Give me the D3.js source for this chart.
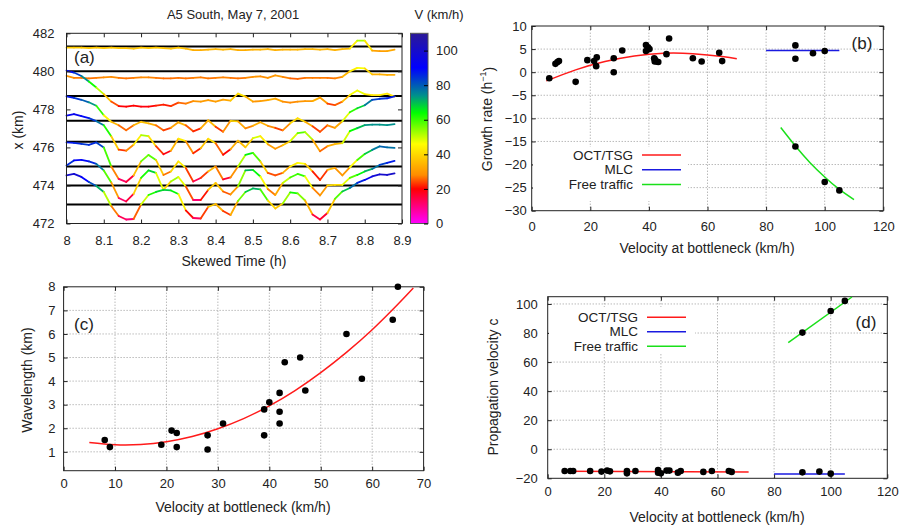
<!DOCTYPE html>
<html>
<head>
<meta charset="utf-8">
<script src="https://cdn.jsdelivr.net/npm/d3@7"></script>
<style>
  body { margin: 0; background: #fff; }
  text { font-family: "Liberation Sans", Arial, sans-serif; fill: #222; }
</style>
</head>
<body>
<svg id="chart" width="899" height="525"></svg>
<script>
// ---- panel (a): speed time series at each detector ----
const times = [8.00, 8.02, 8.04, 8.06, 8.08, 8.10, 8.12, 8.14, 8.16, 8.18, 8.20, 8.22, 8.24, 8.26, 8.28,
  8.30, 8.32, 8.34, 8.36, 8.38, 8.40, 8.42, 8.44, 8.46, 8.48, 8.50, 8.52, 8.54, 8.56, 8.58,
  8.60, 8.62, 8.64, 8.66, 8.68, 8.70, 8.72, 8.74, 8.76, 8.78, 8.80, 8.82, 8.84, 8.86, 8.88];
const detectors = [481.3, 480.0, 478.7, 477.4, 476.3, 475.0, 474.0, 473.0];
const speed1 = [38,38,38,37,38,37,38,37,37,36,38,37,38,37,36,38,36,33,33,34,35,34,35,33,33,34,34,35,33,34,34,34,35,35,34,35,33,35,36,52,52,32,31,31,34];
const speed2 = [31,27,27,26,27,28,29,27,26,27,28,28,27,26,26,27,26,27,28,26,27,28,27,26,27,29,30,27,32,29,26,25,27,27,27,27,26,29,40,47,46,34,34,33,33];
const speed3 = [91,87,80,69,57,44,29,20,19,21,19,19,21,23,20,27,25,30,29,32,29,33,31,45,39,29,30,32,35,29,27,29,30,30,37,25,22,29,42,51,44,42,42,45,39];
const speed4 = [89,86,82,77,70,51,38,31,21,31,38,35,31,21,26,37,31,19,25,41,28,18,40,39,25,30,37,30,26,21,35,45,38,29,18,31,26,39,57,65,71,82,84,85,89];
const speed5 = [92,95,91,87,81,73,51,24,22,34,53,51,31,15,22,46,41,17,27,46,37,14,25,42,29,47,51,35,26,33,41,57,59,44,21,31,35,37,61,67,73,74,74,73,75];
const speed6 = [88,87,85,83,88,78,40,15,9,22,50,63,53,23,30,50,37,10,17,30,40,14,18,40,63,67,50,27,22,27,40,47,45,30,13,33,37,22,38,53,65,73,80,78,77];
const speed7 = [80,90,91,88,83,70,46,15,8,23,55,70,65,31,48,57,38,11,11,31,45,28,22,38,70,71,58,33,21,45,56,63,58,35,20,40,41,41,55,61,68,73,81,85,89];
const speed8 = [98,101,95,85,77,65,37,17,10,11,40,59,65,69,68,61,28,13,12,35,41,27,19,47,65,72,70,48,32,42,64,62,48,20,10,23,51,66,73,83,89,96,100,99,102];
const speeds = [speed1, speed2, speed3, speed4, speed5, speed6, speed7, speed8];
const paletteStops = [0, 20, 28, 46, 64, 74, 90, 110];
const paletteColors = ["#ff00ff", "#ff0000", "#ff8c00", "#ffff00", "#00ff00", "#00908c", "#0000ff", "#2c1a96"];
const cbTicks = [0, 20, 40, 60, 80, 100];

// ---- panel (b): growth rate ----
const bOctV = [6, 8.1, 8.8, 9.3, 15, 19, 21.3, 22.2, 22, 28, 28, 30.9, 39, 39, 39.7, 40.2, 41.8, 42, 42.7, 43.2, 42, 46, 46.9, 55, 58, 64, 65];
const bOctG = [-1.3, 1.8, 2.2, 2.4, -2.1, 2.6, 2.4, 3.2, 1.3, 3.0, 0.0, 4.7, 5.9, 4.6, 5.4, 5.0, 3.0, 2.3, 2.3, 2.2, 2.8, 3.9, 7.3, 3.0, 2.3, 4.2, 2.4];
const bMlcV = [90, 90, 96, 100];
const bMlcG = [5.8, 2.9, 4.1, 4.6];
const bFreeV = [90, 100, 105];
const bFreeG = [-16.1, -23.8, -25.6];
const bOctFitV = [5, 15, 25, 35, 45, 55, 65, 70];
const bOctFitG = [-1.9, 0.5, 2.3, 3.5, 4.1, 4.0, 3.4, 2.9];
const bMlcFitV = [80, 105];
const bMlcFitG = [4.7, 4.7];
const bFreeFitV = [85, 90, 95, 100, 105, 110];
const bFreeFitG = [-12.0, -16.0, -19.6, -22.7, -25.4, -27.6];

// ---- panel (c): wavelength ----
const cV = [8, 9, 19, 21, 22, 22, 28, 28, 31, 39, 39, 40, 42, 42, 42, 43, 46, 47, 55, 58, 64, 65];
const cL = [1.5, 1.2, 1.3, 1.9, 1.8, 1.2, 1.7, 1.1, 2.2, 2.8, 1.7, 3.1, 3.5, 2.7, 2.2, 4.8, 5.0, 3.6, 6.0, 4.1, 6.6, 8.0];
const cFitV = [5, 10, 15, 20, 25, 30, 35, 40, 45, 50, 55, 60, 65, 68];
const cFitL = [1.40, 1.30, 1.31, 1.43, 1.65, 1.98, 2.41, 2.95, 3.6, 4.36, 5.22, 6.18, 7.26, 7.95];

// ---- panel (d): propagation velocity ----
const dOctV = [6, 8, 9, 15, 19, 21, 22, 28, 28, 31, 39, 39, 40, 42, 43, 46, 47, 55, 58, 64, 65];
const dOctC = [-15, -15, -15, -15, -15.4, -14.7, -15.2, -15, -16.6, -15, -14.3, -16.1, -16.6, -14.7, -14.7, -16.1, -15, -15.6, -15, -15, -15.6];
const dMlcV = [90, 96, 100];
const dMlcC = [-15.9, -15.4, -16.8];
const dFreeV = [90, 100, 105];
const dFreeC = [80.3, 95.2, 102.1];
const dOctFitV = [5, 71];
const dOctFitC = [-15.2, -15.6];
const dMlcFitV = [80, 105];
const dMlcFitC = [-17, -17];
const dFreeFitV = [85, 107.5];
const dFreeFitC = [73.4, 104.8];

const legendNames = ["OCT/TSG", "MLC", "Free traffic"];
const fitColors = ["#ff1a1a", "#1a1ae0", "#1ae01a"];

const svg = d3.select("#chart");

function axes(g, x, y, o) {
  const [x0, x1] = x.range();
  const [y0, y1] = y.range();
  if (o.grid) {
    g.append("g").selectAll("line").data(o.xt.filter(d => d > x.domain()[0] && d < x.domain()[1]))
      .join("line").attr("x1", d => x(d)).attr("x2", d => x(d)).attr("y1", y0).attr("y2", y1)
      .attr("stroke", "#999").attr("stroke-dasharray", "1,2");
    g.append("g").selectAll("line").data(o.yt.filter(d => d > y.domain()[0] && d < y.domain()[1]))
      .join("line").attr("y1", d => y(d)).attr("y2", d => y(d)).attr("x1", x0).attr("x2", x1)
      .attr("stroke", "#999").attr("stroke-dasharray", "1,2");
  }
  const t = 4;
  const bx = g.append("g").attr("transform", "translate(0," + y0 + ")")
    .call(d3.axisBottom(x).tickValues(o.xt).tickSize(-t).tickSizeOuter(0).tickPadding(o.xpad).tickFormat(o.xf || d3.format("")));
  g.append("g").attr("transform", "translate(0," + y1 + ")")
    .call(d3.axisTop(x).tickValues(o.xt).tickSize(-t).tickSizeOuter(0).tickFormat(""));
  const ly = g.append("g").attr("transform", "translate(" + x0 + ",0)")
    .call(d3.axisLeft(y).tickValues(o.yt).tickSize(-t).tickSizeOuter(0).tickPadding(o.ypad).tickFormat(d3.format("")));
  g.append("g").attr("transform", "translate(" + x1 + ",0)")
    .call(d3.axisRight(y).tickValues(o.yt).tickSize(-t).tickSizeOuter(0).tickFormat(""));
  g.selectAll(".domain").remove();
  g.selectAll(".tick line").attr("stroke", "#222");
  bx.selectAll("text").attr("dy", "0.35em").style("font-size", "13px").style("font-family", null);
  ly.selectAll("text").style("font-size", "13px").style("font-family", null);
  g.append("rect").attr("x", x0).attr("y", y1).attr("width", x1 - x0).attr("height", y0 - y1)
    .attr("fill", "none").attr("stroke", "#222");
}

function title(g, txt, x, y, rot, size) {
  return g.append("text").attr("transform", "translate(" + x + "," + y + ")" + (rot ? " rotate(-90)" : ""))
    .attr("text-anchor", "middle").attr("dominant-baseline", "central")
    .style("font-size", (size || 14) + "px").text(txt);
}

function dots(g, x, y, vs, ws) {
  g.append("g").selectAll("circle").data(vs).join("circle")
    .attr("cx", d => x(d)).attr("cy", (d, i) => y(ws[i])).attr("r", 3.3).attr("fill", "#000");
}

function fit(g, x, y, vs, ws, color) {
  const line = d3.line().x(d => x(d[0])).y(d => y(d[1])).curve(d3.curveNatural);
  g.append("path").datum(vs.map((v, i) => [v, ws[i]])).attr("d", line)
    .attr("fill", "none").attr("stroke", color).attr("stroke-width", 1.5);
}

function legend(g, xr, ys) {
  legendNames.forEach((n, i) => {
    g.append("text").attr("x", xr).attr("y", ys[i]).attr("text-anchor", "end")
      .attr("dominant-baseline", "central").style("font-size", "13.5px").text(n);
    g.append("line").attr("x1", xr + 9).attr("x2", xr + 48).attr("y1", ys[i]).attr("y2", ys[i])
      .attr("stroke", fitColors[i]).attr("stroke-width", 1.5);
  });
}

// ===== (a) =====
const ga = svg.append("g");
const xa = d3.scaleLinear().domain([8, 8.9]).range([66.5, 402]);
const ya = d3.scaleLinear().domain([472, 482]).range([223.5, 33.3]);
const pal = d3.scaleLinear().domain(paletteStops).range(paletteColors).clamp(true);

detectors.forEach(d => {
  ga.append("line").attr("x1", xa(8)).attr("x2", xa(8.9)).attr("y1", ya(d)).attr("y2", ya(d))
    .attr("stroke", "#000").attr("stroke-width", 2);
});
speeds.forEach((sp, k) => {
  const off = v => ya(detectors[k] + (v - 40) / 38);
  for (let i = 0; i < sp.length - 1; i++) {
    ga.append("line")
      .attr("x1", xa(times[i])).attr("y1", off(sp[i]))
      .attr("x2", xa(times[i + 1])).attr("y2", off(sp[i + 1]))
      .attr("stroke", pal((sp[i] + sp[i + 1]) / 2)).attr("stroke-width", 1.8).attr("stroke-linecap", "round");
  }
});
axes(ga, xa, ya, { xt: d3.range(0, 10).map(i => 8 + i / 10), yt: [472, 474, 476, 478, 480, 482], xpad: 17, ypad: 12,
  xf: d => d === 8 ? "8" : d3.format(".1f")(d) });
title(ga, "A5 South, May 7, 2001", 233, 14, false, 13);
title(ga, "Skewed Time (h)", 234, 261);
title(ga, "x (km)", 18, 130, true);
ga.append("text").attr("x", 74).attr("y", 57).attr("dominant-baseline", "central").style("font-size", "17px").text("(a)");

// colour bar
const cb = d3.scaleLinear().domain([0, 110]).range([223.5, 33.3]);
const grad = svg.append("defs").append("linearGradient").attr("id", "cbar")
  .attr("x1", 0).attr("y1", 1).attr("x2", 0).attr("y2", 0);
paletteStops.forEach((s, i) => grad.append("stop").attr("offset", s / 110).attr("stop-color", paletteColors[i]));
ga.append("rect").attr("x", 410.5).attr("y", 33.3).attr("width", 17.5).attr("height", 190.2)
  .attr("fill", "url(#cbar)").attr("stroke", "#555");
const cbAxis = ga.append("g").attr("transform", "translate(428,0)")
  .call(d3.axisRight(cb).tickValues(cbTicks).tickSize(-4).tickSizeOuter(0).tickPadding(8));
cbAxis.select(".domain").remove();
cbAxis.selectAll("text").style("font-size", "13px").style("font-family", null);
title(ga, "V (km/h)", 439, 14, false, 13);

// ===== (b) =====
const gb = svg.append("g");
const xb = d3.scaleLinear().domain([0, 120]).range([531.7, 883.3]);
const yb = d3.scaleLinear().domain([-30, 10]).range([210.7, 26]);
axes(gb, xb, yb, { xt: d3.range(0, 121, 20), yt: d3.range(-30, 11, 5), xpad: 16, ypad: 5, grid: true });
gb.append("rect").attr("x", 533).attr("y", 147).attr("width", 155).attr("height", 54).attr("fill", "#fff");
fit(gb, xb, yb, bOctFitV, bOctFitG, fitColors[0]);
fit(gb, xb, yb, bMlcFitV, bMlcFitG, fitColors[1]);
fit(gb, xb, yb, bFreeFitV, bFreeFitG, fitColors[2]);
dots(gb, xb, yb, bOctV, bOctG);
dots(gb, xb, yb, bMlcV, bMlcG);
dots(gb, xb, yb, bFreeV, bFreeG);
legend(gb, 633, [155, 169.7, 184.4]);
title(gb, "Velocity at bottleneck (km/h)", 707, 248);
const gt = title(gb, "Growth rate (h", 487, 119, true);
gt.append("tspan").attr("dy", "-0.45em").style("font-size", "9px").text("\u22121");
gt.append("tspan").attr("dy", "0.45em").text(")");
gb.append("text").attr("x", 862).attr("y", 43).attr("text-anchor", "middle").attr("dominant-baseline", "central")
  .style("font-size", "17px").text("(b)");

// ===== (c) =====
const gc = svg.append("g");
const xc = d3.scaleLinear().domain([0, 70]).range([63.6, 423.6]);
const yc = d3.scaleLinear().domain([0.2, 8]).range([470.7, 286.8]);
axes(gc, xc, yc, { xt: d3.range(0, 71, 10), yt: d3.range(1, 9), xpad: 13, ypad: 8, grid: true });
fit(gc, xc, yc, cFitV, cFitL, fitColors[0]);
dots(gc, xc, yc, cV, cL);
title(gc, "Velocity at bottleneck (km/h)", 243, 507);
title(gc, "Wavelength (km)", 27, 380, true);
gc.append("text").attr("x", 84).attr("y", 324).attr("text-anchor", "middle").attr("dominant-baseline", "central")
  .style("font-size", "17px").text("(c)");

// ===== (d) =====
const gd = svg.append("g");
const xd = d3.scaleLinear().domain([0, 120]).range([547.7, 887.3]);
const yd = d3.scaleLinear().domain([-20, 105]).range([478.3, 296.7]);
axes(gd, xd, yd, { xt: d3.range(0, 121, 20), yt: d3.range(-20, 101, 20), xpad: 13, ypad: 10, grid: true });
gd.append("rect").attr("x", 549).attr("y", 307).attr("width", 146).attr("height", 47).attr("fill", "#fff");
fit(gd, xd, yd, dOctFitV, dOctFitC, fitColors[0]);
fit(gd, xd, yd, dMlcFitV, dMlcFitC, fitColors[1]);
fit(gd, xd, yd, dFreeFitV, dFreeFitC, fitColors[2]);
dots(gd, xd, yd, dOctV, dOctC);
dots(gd, xd, yd, dMlcV, dMlcC);
dots(gd, xd, yd, dFreeV, dFreeC);
legend(gd, 638, [317.3, 331.8, 346.3]);
title(gd, "Velocity at bottleneck (km/h)", 717, 517);
title(gd, "Propagation velocity c", 493, 387, true);
gd.append("text").attr("x", 866).attr("y", 322).attr("text-anchor", "middle").attr("dominant-baseline", "central")
  .style("font-size", "17px").text("(d)");
</script>
</body>
</html>
